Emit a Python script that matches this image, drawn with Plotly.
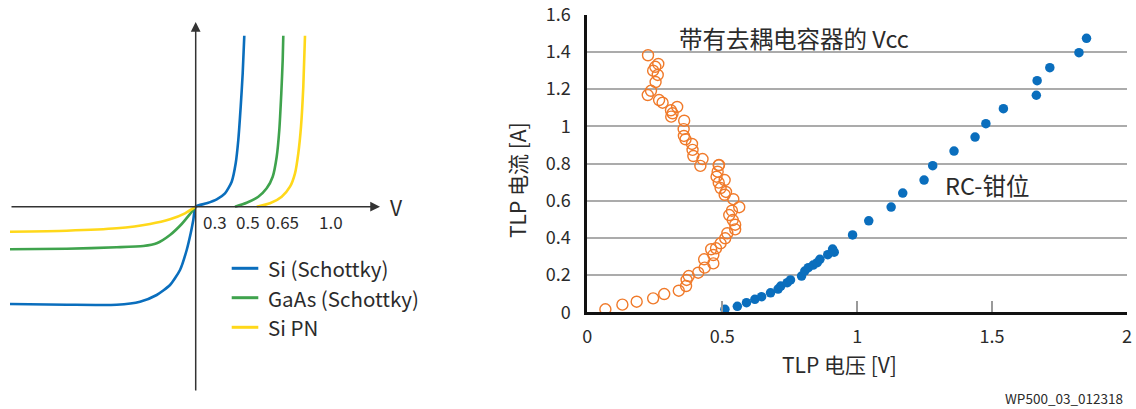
import plotly.graph_objects as go

FONT = "Noto Sans CJK SC"
TXT = "#2b2b2b"

# ---------------- Left panel: schematic diode I-V curves (schematic units) ----------------
diode_names = ["Si (Schottky)", "GaAs (Schottky)", "Si PN"]
diode_colors = ["#0A6EBD", "#3FA34D", "#FFD81A"]

si_schottky_v = [-1.857, -1.29, -0.79, -0.557, -0.39, -0.257, -0.157, -0.09, -0.05, -0.024, 0.0,
                 0.11, 0.21, 0.293, 0.36, 0.40, 0.426, 0.45, 0.47, 0.486]
si_schottky_i = [-0.973, -0.98, -0.98, -0.95, -0.883, -0.783, -0.633, -0.433, -0.266, -0.133, 0.0,
                 0.034, 0.074, 0.134, 0.25, 0.434, 0.667, 1.0, 1.334, 1.71]

gaas_left_v = [-1.857, -1.29, -0.79, -0.524, -0.39, -0.257, -0.14, -0.057, 0.0]
gaas_left_i = [-0.426, -0.42, -0.406, -0.393, -0.366, -0.283, -0.173, -0.073, 0.0]
gaas_right_v = [0.393, 0.51, 0.626, 0.71, 0.77, 0.81, 0.836, 0.856, 0.87, 0.876]
gaas_right_i = [0.0, 0.04, 0.10, 0.184, 0.30, 0.50, 0.767, 1.134, 1.467, 1.71]

sipn_left_v = [-1.857, -1.29, -0.79, -0.457, -0.257, -0.107, 0.0]
sipn_left_i = [-0.25, -0.24, -0.216, -0.173, -0.126, -0.066, 0.0]
sipn_right_v = [0.61, 0.743, 0.86, 0.943, 0.993, 1.026, 1.053, 1.076, 1.093]
sipn_right_i = [0.0, 0.034, 0.10, 0.20, 0.334, 0.534, 0.80, 1.20, 1.71]

v_tick_labels = ["0.3", "0.5", "0.65", "1.0"]
v_tick_pos = [0.193, 0.526, 0.863, 1.353]

# ---------------- Right panel: TLP measurements ----------------
vcc_v = [0.067, 0.130, 0.183, 0.244, 0.285, 0.339, 0.366, 0.368, 0.376, 0.411, 0.435, 0.467,
         0.433, 0.467, 0.459, 0.477, 0.494, 0.511, 0.519, 0.548, 0.548, 0.539, 0.526, 0.536,
         0.563, 0.541, 0.509, 0.514, 0.494, 0.487, 0.509, 0.479, 0.483, 0.487, 0.488, 0.419,
         0.427, 0.393, 0.390, 0.388, 0.364, 0.358, 0.357, 0.359, 0.311, 0.316, 0.310, 0.333,
         0.279, 0.266, 0.224, 0.236, 0.253, 0.261, 0.244, 0.252, 0.263, 0.225]
vcc_i = [0.016, 0.041, 0.057, 0.075, 0.098, 0.116, 0.141, 0.174, 0.195, 0.213, 0.240, 0.263,
         0.285, 0.308, 0.339, 0.344, 0.371, 0.398, 0.425, 0.446, 0.471, 0.496, 0.523, 0.546,
         0.565, 0.608, 0.632, 0.647, 0.668, 0.697, 0.711, 0.729, 0.756, 0.790, 0.792, 0.787,
         0.824, 0.840, 0.873, 0.905, 0.930, 0.948, 0.985, 1.030, 1.052, 1.070, 1.086, 1.104,
         1.127, 1.141, 1.168, 1.191, 1.238, 1.276, 1.299, 1.320, 1.335, 1.382]

rc_v = [0.510, 0.556, 0.590, 0.621, 0.646, 0.679, 0.707, 0.717, 0.741, 0.753, 0.794, 0.806,
        0.819, 0.837, 0.852, 0.862, 0.891, 0.909, 0.915, 0.983, 1.043, 1.126, 1.169, 1.248,
        1.280, 1.359, 1.437, 1.477, 1.542, 1.664, 1.667, 1.714, 1.822, 1.850]
rc_i = [0.016, 0.032, 0.052, 0.070, 0.084, 0.105, 0.125, 0.141, 0.159, 0.174, 0.195, 0.222,
        0.240, 0.254, 0.267, 0.285, 0.310, 0.340, 0.323, 0.416, 0.492, 0.566, 0.641, 0.711,
        0.788, 0.867, 0.942, 1.014, 1.095, 1.167, 1.245, 1.315, 1.396, 1.473]

x_ticks = [0, 0.5, 1, 1.5, 2]
x_tick_text = ["0", "0.5", "1", "1.5", "2"]
y_ticks = [0, 0.2, 0.4, 0.6, 0.8, 1.0, 1.2, 1.4, 1.6]
y_tick_text = ["0", "0.2", "0.4", "0.6", "0.8", "1", "1.2", "1.4", "1.6"]

label_vcc = "带有去耦电容器的 Vcc"
label_rc = "RC-钳位"
x_title = "TLP 电压 [V]"
y_title = "TLP 电流 [A]"
footnote = "WP500_03_012318"

fig = go.Figure()

# left panel curves
left_series = [
    (si_schottky_v, si_schottky_i),
    (gaas_left_v + [None] + gaas_right_v, gaas_left_i + [None] + gaas_right_i),
    (sipn_left_v + [None] + sipn_right_v, sipn_left_i + [None] + sipn_right_i),
]
for (xs, ys), name, col in zip(left_series, diode_names, diode_colors):
    fig.add_trace(go.Scatter(x=xs, y=ys, mode="lines", name=name, xaxis="x2", yaxis="y2",
                             line=dict(color=col, width=2.6, shape="spline", smoothing=0.6),
                             showlegend=False, hoverinfo="skip"))

# right panel scatter
fig.add_trace(go.Scatter(x=vcc_v, y=vcc_i, mode="markers", name=label_vcc,
                         marker=dict(symbol="circle-open", size=11, color="#F07A2A",
                                     line=dict(width=1.4, color="#F07A2A")),
                         showlegend=False))
fig.add_trace(go.Scatter(x=rc_v, y=rc_i, mode="markers", name=label_rc,
                         marker=dict(symbol="circle", size=9.5, color="#0A6EBD"),
                         showlegend=False))

W, H = 1136, 409
annotations = []
shapes = []

# left-panel axes with arrows
annotations.append(dict(x=1.843, y=0, ax=-1.857, ay=0, xref="x2", yref="y2", axref="x2", ayref="y2",
                        showarrow=True, arrowhead=2, arrowsize=1.3, arrowwidth=1.5,
                        arrowcolor="#333333", text=""))
annotations.append(dict(x=0, y=1.847, ax=0, ay=-1.853, xref="x2", yref="y2", axref="x2", ayref="y2",
                        showarrow=True, arrowhead=2, arrowsize=1.3, arrowwidth=1.5,
                        arrowcolor="#333333", text=""))
annotations.append(dict(x=2.003, y=0.0, xref="x2", yref="y2", text="V", showarrow=False,
                        xanchor="center", yanchor="middle",
                        font=dict(family=FONT, size=21, color=TXT)))
for lab, pos in zip(v_tick_labels, v_tick_pos):
    annotations.append(dict(x=pos, y=-0.15, xref="x2", yref="y2", text=lab, showarrow=False,
                            xanchor="center", yanchor="middle",
                            font=dict(family=FONT, size=17, color=TXT)))

# manual legend for left panel
legend_y = [-0.616, -0.91, -1.206]
for name, col, ly in zip(diode_names, diode_colors, legend_y):
    shapes.append(dict(type="line", xref="x2", yref="y2", x0=0.36, x1=0.626, y0=ly, y1=ly,
                       line=dict(color=col, width=3)))
    annotations.append(dict(x=0.705, y=ly, xref="x2", yref="y2", text=name, showarrow=False,
                            xanchor="left", yanchor="middle",
                            font=dict(family=FONT, size=20.5, color=TXT)))

# right-panel labels
annotations.append(dict(x=0.331, y=1.475, xref="x", yref="y", text=label_vcc, showarrow=False,
                        xanchor="left", yanchor="middle",
                        font=dict(family=FONT, size=23.5, color=TXT)))
annotations.append(dict(x=1.319, y=0.684, xref="x", yref="y", text=label_rc, showarrow=False,
                        xanchor="left", yanchor="middle",
                        font=dict(family=FONT, size=23.5, color=TXT)))
annotations.append(dict(x=839.7 / W, y=(H - 364) / H, xref="paper", yref="paper", text=x_title,
                        xanchor="center", yanchor="middle",
                        showarrow=False, font=dict(family=FONT, size=21, color=TXT)))
annotations.append(dict(x=517 / W, y=(H - 180) / H, xref="paper", yref="paper", text=y_title,
                        xanchor="center", yanchor="middle",
                        textangle=-90, showarrow=False, font=dict(family=FONT, size=21, color=TXT)))
annotations.append(dict(x=1125 / W, y=(H - 398) / H, xref="paper", yref="paper", text=footnote,
                        xanchor="right", yanchor="middle",
                        showarrow=False, font=dict(family=FONT, size=13.5, color=TXT)))

fig.update_layout(
    width=W, height=H, autosize=False,
    margin=dict(l=0, r=0, t=0, b=0, pad=0, autoexpand=False),
    paper_bgcolor="white", plot_bgcolor="white",
    font=dict(family=FONT, color=TXT),
    showlegend=False,
    xaxis=dict(domain=[587.3 / W, 1127 / W], range=[0, 2], showgrid=False, zeroline=False,
               showline=True, linecolor="#111111", linewidth=3, automargin=False,
               ticks="inside", ticklen=11, tickwidth=1.5, tickcolor="#9a9a9a",
               tickvals=x_ticks, ticktext=x_tick_text, ticklabelstandoff=6,
               tickfont=dict(family=FONT, size=18, color=TXT)),
    yaxis=dict(domain=[(H - 312.3) / H, (H - 14.7) / H], range=[0, 1.6], showgrid=True,
               gridcolor="#ababab", gridwidth=1.5, zeroline=False, automargin=False,
               showline=True, linecolor="#111111", linewidth=3, ticks="",
               tickvals=y_ticks, ticktext=y_tick_text, ticklabelstandoff=10,
               tickfont=dict(family=FONT, size=18, color=TXT)),
    xaxis2=dict(domain=[0, 420 / W], range=[-1.957, 2.243], visible=False, anchor="y2"),
    yaxis2=dict(domain=[0, 1], range=[-2.023, 2.067], visible=False, anchor="x2"),
    annotations=annotations,
    shapes=shapes,
)

fig.write_html("out.html", config={"displayModeBar": False, "responsive": False},
               post_script="document.body.style.margin='0';")
